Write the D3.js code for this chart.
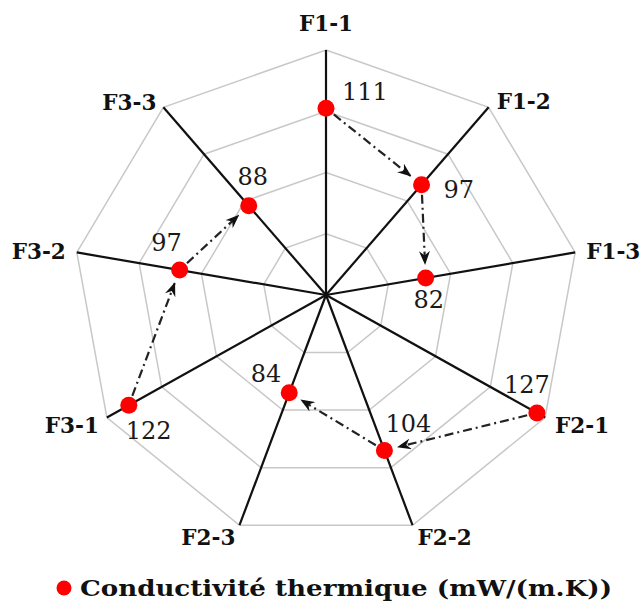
<!DOCTYPE html>
<html>
<head>
<meta charset="utf-8">
<script src="https://cdn.jsdelivr.net/npm/d3@7"></script>
<style>
  html, body { margin: 0; padding: 0; background: #fff; }
  svg { display: block; }
</style>
</head>
<body>
<svg id="chart" width="644" height="604"></svg>
<script>
// Formulations around the radar, clockwise from the top
const categories = ["F1-1", "F1-2", "F1-3", "F2-1", "F2-2", "F2-3", "F3-1", "F3-2", "F3-3"];
// Thermal conductivity, mW/(m.K)
const conductivity = [111, 97, 82, 127, 104, 84, 122, 97, 88];
// Radial axis range and ring levels
const radialDomain = [50, 130];
const ringLevels = [70, 90, 110, 130];
// Arrows link the formulations of each family in order
const sequences = [[0, 1, 2], [3, 4, 5], [6, 7, 8]];
const seriesName = "Conductivité thermique (mW/(m.K))";

const svg = d3.select("#chart");
const cx = 326, cy = 295;
const rx = 253, ry = 245;

const rX = d3.scaleLinear().domain(radialDomain).range([0, rx]);
const rY = d3.scaleLinear().domain(radialDomain).range([0, ry]);
const angle = d3.scaleLinear().domain([0, categories.length]).range([0, 2 * Math.PI]);

const pos = (i, v) => {
  const a = angle(i);
  return [cx + Math.sin(a) * rX(v), cy - Math.cos(a) * rY(v)];
};

// Rings
const ringLine = d3.line();
svg.append("g").selectAll("path")
  .data(ringLevels)
  .join("path")
  .attr("d", lv => ringLine(categories.map((c, i) => pos(i, lv))) + "Z")
  .attr("fill", "none")
  .attr("stroke", "#c8c8c8")
  .attr("stroke-width", 1.5);

// Spokes
svg.append("g").selectAll("line")
  .data(categories)
  .join("line")
  .attr("x1", cx).attr("y1", cy)
  .attr("x2", (c, i) => pos(i, radialDomain[1])[0])
  .attr("y2", (c, i) => pos(i, radialDomain[1])[1])
  .attr("stroke", "#111")
  .attr("stroke-width", 2.2);

// Category labels
const catFont = "'DejaVu Serif', serif";
const catPlacement = [
  { dx: 0, dy: -19, anchor: "middle" },
  { dx: 8, dy: 2, anchor: "start" },
  { dx: 11, dy: 7, anchor: "start" },
  { dx: 10, dy: 15, anchor: "start" },
  { dx: 5, dy: 20, anchor: "start" },
  { dx: -4, dy: 20, anchor: "end" },
  { dx: -8, dy: 15, anchor: "end" },
  { dx: -11, dy: 7, anchor: "end" },
  { dx: -7, dy: 3, anchor: "end" }
];
svg.append("g").selectAll("text")
  .data(categories)
  .join("text")
  .attr("x", (c, i) => pos(i, radialDomain[1])[0] + catPlacement[i].dx)
  .attr("y", (c, i) => pos(i, radialDomain[1])[1] + catPlacement[i].dy)
  .attr("text-anchor", (c, i) => catPlacement[i].anchor)
  .attr("font-family", catFont)
  .attr("font-weight", "bold")
  .attr("font-size", 21.5)
  .attr("fill", "#111")
  .text(c => c);

// Arrow marker
svg.append("defs").append("marker")
  .attr("id", "arrow")
  .attr("viewBox", "0 0 14 11")
  .attr("refX", 13).attr("refY", 5.5)
  .attr("markerWidth", 14).attr("markerHeight", 11)
  .attr("markerUnits", "userSpaceOnUse")
  .attr("orient", "auto")
  .append("path")
  .attr("d", "M0,0 L14,5.5 L0,11 L4.5,5.5 Z")
  .attr("fill", "#111");

// Dash-dot arrows between successive points
const links = [];
sequences.forEach(seq => {
  for (let k = 0; k < seq.length - 1; k++) links.push([seq[k], seq[k + 1]]);
});
svg.append("g").selectAll("line")
  .data(links)
  .join("line")
  .each(function ([a, b]) {
    const p = pos(a, conductivity[a]);
    const q = pos(b, conductivity[b]);
    const dx = q[0] - p[0], dy = q[1] - p[1];
    const L = Math.hypot(dx, dy);
    const ux = dx / L, uy = dy / L;
    d3.select(this)
      .attr("x1", p[0] + ux * 10).attr("y1", p[1] + uy * 10)
      .attr("x2", q[0] - ux * 14).attr("y2", q[1] - uy * 14);
  })
  .attr("stroke", "#222")
  .attr("stroke-width", 2.2)
  .attr("stroke-dasharray", "9,4,2,4")
  .attr("marker-end", "url(#arrow)");

// Points
svg.append("g").selectAll("circle")
  .data(conductivity)
  .join("circle")
  .attr("cx", (v, i) => pos(i, v)[0])
  .attr("cy", (v, i) => pos(i, v)[1])
  .attr("r", 8.5)
  .attr("fill", "#ff0000");

// Value labels
const valPlacement = [
  { dx: 16, dy: -8, anchor: "start" },
  { dx: 22, dy: 13, anchor: "start" },
  { dx: 3, dy: 30, anchor: "middle" },
  { dx: -10, dy: -20, anchor: "middle" },
  { dx: 1, dy: -18, anchor: "start" },
  { dx: -8, dy: -11, anchor: "end" },
  { dx: -3, dy: 34, anchor: "start" },
  { dx: -13, dy: -19, anchor: "middle" },
  { dx: 4, dy: -21, anchor: "middle" }
];
svg.append("g").selectAll("text")
  .data(conductivity)
  .join("text")
  .attr("x", (v, i) => pos(i, v)[0] + valPlacement[i].dx)
  .attr("y", (v, i) => pos(i, v)[1] + valPlacement[i].dy)
  .attr("text-anchor", (v, i) => valPlacement[i].anchor)
  .attr("font-family", catFont)
  .attr("font-size", 24)
  .attr("fill", "#1a1a1a")
  .text(v => v);

// Legend
const legend = svg.append("g");
legend.append("circle")
  .attr("cx", 64).attr("cy", 588).attr("r", 7.5)
  .attr("fill", "#ff0000");
legend.append("text")
  .attr("x", 80).attr("y", 596)
  .attr("font-family", catFont)
  .attr("font-weight", "bold")
  .attr("font-size", 23)
  .attr("fill", "#111")
  .attr("textLength", 532)
  .attr("lengthAdjust", "spacingAndGlyphs")
  .text(seriesName);
</script>
</body>
</html>
